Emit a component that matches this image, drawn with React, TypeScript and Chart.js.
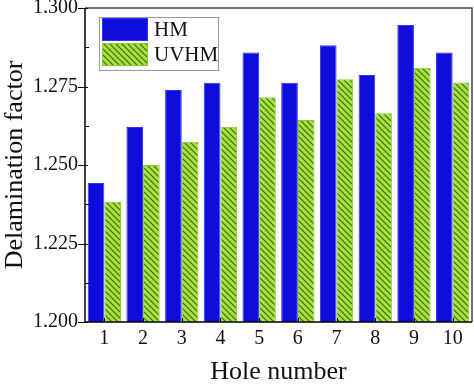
import React, { useEffect, useRef } from "react";
import { Chart, registerables } from "chart.js";

Chart.register(...registerables);

const categories = ["1", "2", "3", "4", "5", "6", "7", "8", "9", "10"];
const hmValues = [1.2443, 1.2621, 1.2739, 1.2762, 1.2858, 1.2762, 1.2881, 1.2787, 1.2946, 1.2858];
const uvhmValues = [1.2383, 1.2500, 1.2574, 1.2622, 1.2716, 1.2643, 1.2773, 1.2665, 1.2810, 1.2763];
const seriesLabels = ["HM", "UVHM"];
const yMin = 1.2;
const yMax = 1.3;
const yStep = 0.025;

const SERIF = "'Liberation Serif', 'Times New Roman', serif";

function makePattern(bg: string, line: string, size: number, forward: boolean, lw: number) {
  const c = document.createElement("canvas");
  c.width = size;
  c.height = size;
  const ctx = c.getContext("2d")!;
  ctx.fillStyle = bg;
  ctx.fillRect(0, 0, size, size);
  ctx.strokeStyle = line;
  ctx.lineWidth = lw;
  ctx.beginPath();
  if (forward) {
    ctx.moveTo(0, size);
    ctx.lineTo(size, 0);
    ctx.moveTo(-size / 2, size / 2);
    ctx.lineTo(size / 2, -size / 2);
    ctx.moveTo(size / 2, size * 1.5);
    ctx.lineTo(size * 1.5, size / 2);
  } else {
    ctx.moveTo(0, 0);
    ctx.lineTo(size, size);
    ctx.moveTo(-size / 2, size / 2);
    ctx.lineTo(size / 2, size * 1.5);
    ctx.moveTo(size / 2, -size / 2);
    ctx.lineTo(size * 1.5, size / 2);
  }
  ctx.stroke();
  const p = document.createElement("canvas").getContext("2d")!.createPattern(c, "repeat");
  return p as CanvasPattern;
}

export default function App() {
  const ref = useRef<HTMLCanvasElement | null>(null);

  useEffect(() => {
    document.body.style.margin = "0";
    const canvas = ref.current!;
    const blueP = makePattern("#0c0cee", "#1010a8", 4, true, 1);
    const greenP = makePattern("#a8e23c", "#3c6a12", 6, false, 1.2);

    const framePlugin = {
      id: "framePlugin",
      afterDraw(chart: any) {
        const ctx = chart.ctx as CanvasRenderingContext2D;
        const { left, right, top, bottom } = chart.chartArea;
        const ys = chart.scales.y;
        const xs = chart.scales.x;
        ctx.save();
        ctx.strokeStyle = "#444";
        ctx.lineWidth = 1.5;
        ctx.beginPath();
        ctx.moveTo(left, top);
        ctx.lineTo(right, top);
        ctx.lineTo(right, bottom);
        ctx.stroke();
        ctx.strokeStyle = "#000";
        ctx.beginPath();
        ctx.moveTo(left, top);
        ctx.lineTo(left, bottom);
        ctx.lineTo(right, bottom);
        ctx.stroke();
        ctx.lineWidth = 1;
        ctx.strokeStyle = "#000";
        ctx.beginPath();
        for (let v = yMin; v <= yMax + 1e-9; v += yStep) {
          const y = Math.round(ys.getPixelForValue(v)) + 0.5;
          ctx.moveTo(left - 7, y);
          ctx.lineTo(left + 3, y);
          if (v + yStep / 2 < yMax) {
            const ym = Math.round(ys.getPixelForValue(v + yStep / 2)) + 0.5;
            ctx.moveTo(left, ym);
            ctx.lineTo(left + 4, ym);
          }
        }
        for (let i = 0; i < categories.length; i++) {
          const x = Math.round(xs.getPixelForValue(i)) + 0.5;
          ctx.moveTo(x, bottom);
          ctx.lineTo(x, bottom - 4);
        }
        ctx.stroke();

        const lx = left + 14;
        const ly = top + 9;
        ctx.fillStyle = "#fff";
        ctx.fillRect(lx, ly, 119, 53);
        ctx.strokeStyle = "#999";
        ctx.lineWidth = 1;
        ctx.strokeRect(lx + 0.5, ly + 0.5, 119, 53);
        const ds = chart.data.datasets;
        ctx.font = `21px ${SERIF}`;
        ctx.textBaseline = "middle";
        ctx.textAlign = "left";
        for (let i = 0; i < ds.length; i++) {
          const sy = ly + 1 + i * 25;
          ctx.fillStyle = ds[i].backgroundColor;
          ctx.fillRect(lx + 3, sy, 46, 23);
          ctx.strokeStyle = ds[i].borderColor;
          ctx.strokeRect(lx + 3.5, sy + 0.5, 45, 22);
          ctx.fillStyle = "#111";
          ctx.fillText(ds[i].label, lx + 55, sy + 12);
        }
        ctx.restore();
      },
    };

    const chart = new Chart(canvas, {
      type: "bar",
      data: {
        labels: categories,
        datasets: [
          {
            label: seriesLabels[0],
            data: hmValues,
            backgroundColor: blueP as any,
            borderColor: "#3030ff",
            borderWidth: 1,
            categoryPercentage: 0.86,
            barPercentage: 1,
          },
          {
            label: seriesLabels[1],
            data: uvhmValues,
            backgroundColor: greenP as any,
            borderColor: "#8fc830",
            borderWidth: 1,
            categoryPercentage: 0.86,
            barPercentage: 1,
          },
        ],
      },
      options: {
        responsive: false,
        animation: false,
        devicePixelRatio: 1,
        layout: { padding: { top: 8, right: 2, left: 0, bottom: 0 } },
        plugins: {
          legend: { display: false },
          tooltip: { enabled: false },
        },
        scales: {
          x: {
            grid: { display: false, drawTicks: false },
            border: { display: false },
            ticks: { font: { family: SERIF, size: 20 }, color: "#111", padding: 5 },
            title: {
              display: true,
              text: "Hole number",
              font: { family: SERIF, size: 26 },
              color: "#111",
              padding: { top: 0, bottom: 2 },
            },
            afterFit(scale: any) {
              scale.height = 68;
              scale.paddingLeft = 0;
              scale.paddingRight = 0;
            },
          },
          y: {
            min: yMin,
            max: yMax,
            grid: { display: false, drawTicks: false },
            border: { display: false },
            ticks: {
              stepSize: yStep,
              font: { family: SERIF, size: 20 },
              color: "#111",
              padding: 7,
              callback: (v: any) => Number(v).toFixed(3),
            },
            title: {
              display: true,
              text: "Delamination factor",
              font: { family: SERIF, size: 26 },
              color: "#111",
              padding: { top: 0, bottom: 0 },
            },
            afterFit(scale: any) {
              scale.width = 85;
              scale.paddingTop = 0;
              scale.paddingBottom = 0;
            },
          },
        },
      },
      plugins: [framePlugin],
    });
    return () => chart.destroy();
  }, []);

  return (
    <div style={{ width: 474, height: 390 }}>
      <canvas ref={ref} width={474} height={390} />
    </div>
  );
}
